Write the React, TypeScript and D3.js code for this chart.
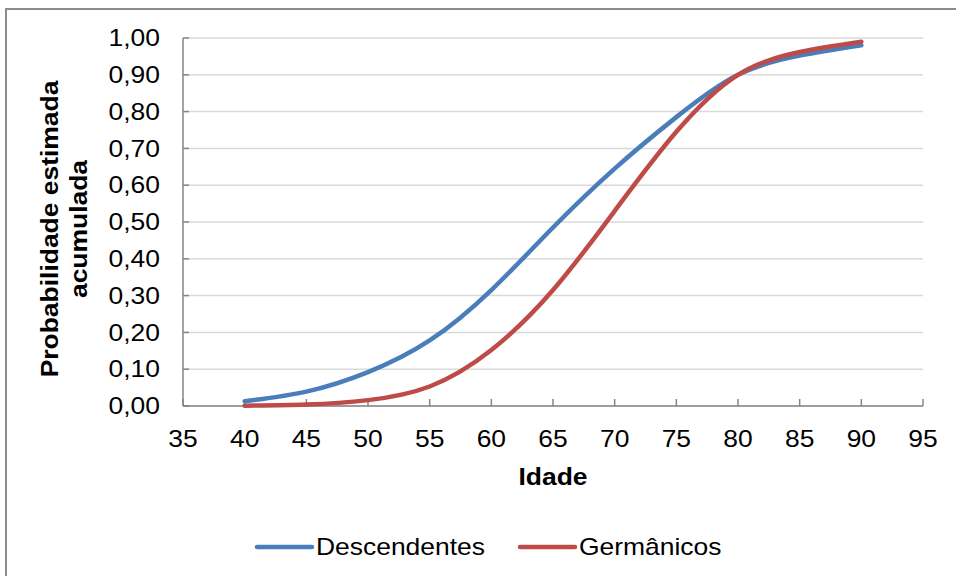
import React from "react";
import * as d3 from "d3";

const ages = [40, 45, 50, 55, 60, 65, 70, 75, 80, 85, 90];
const descendentes = [0.013, 0.039, 0.092, 0.178, 0.315, 0.485, 0.645, 0.785, 0.9, 0.952, 0.98];
const germanicos = [0.001, 0.004, 0.016, 0.053, 0.152, 0.315, 0.53, 0.745, 0.9, 0.962, 0.99];
const xTicks = [35, 40, 45, 50, 55, 60, 65, 70, 75, 80, 85, 90, 95];
const yTicks = [0, 0.1, 0.2, 0.3, 0.4, 0.5, 0.6, 0.7, 0.8, 0.9, 1.0];
const seriesNames = ["Descendentes", "Germânicos"];
const seriesColors = ["#4A7EBB", "#BE4B48"];

const W = 956;
const H = 576;
const L = 183, R = 923, T = 38, B = 406;
const SX = 1.15;

function Txt(props: {
  x: number;
  y: number;
  anchor?: "start" | "middle" | "end";
  bold?: boolean;
  dy?: string;
  children: React.ReactNode;
}) {
  return (
    <text
      transform={`translate(${props.x},${props.y}) scale(${SX},1)`}
      textAnchor={props.anchor || "start"}
      dy={props.dy}
      fontSize={23}
      fontWeight={props.bold ? "bold" : "normal"}
      fill="#000"
    >
      {props.children}
    </text>
  );
}

export default function App() {
  const x = d3.scaleLinear().domain([35, 95]).range([L, R]);
  const y = d3.scaleLinear().domain([0, 1]).range([B, T]);
  const line = d3
    .line<number>()
    .x((_, i) => x(ages[i]))
    .y((d) => y(d))
    .curve(d3.curveNatural);
  const series = [descendentes, germanicos];
  const fmt = (v: number) => v.toFixed(2).replace(".", ",");
  const font = "Liberation Sans, Arial, sans-serif";
  const legendX = [257, 520];
  return (
    <svg
      width={W}
      height={H}
      style={{ position: "absolute", left: 0, top: 0 }}
      fontFamily={font}
    >
      <rect x={0} y={0} width={W} height={H} fill="#fff" />
      <rect x={6} y={9} width={1000} height={1000} fill="none" stroke="#8c8c8c" strokeWidth={2} />
      {yTicks.map((t) => (
        <line key={"g" + t} x1={L} x2={R} y1={y(t)} y2={y(t)} stroke="#d9d9d9" strokeWidth={1.5} />
      ))}
      {yTicks.map((t) => (
        <line key={"yt" + t} x1={L} x2={L + 6} y1={y(t)} y2={y(t)} stroke="#868686" strokeWidth={1.5} />
      ))}
      <line x1={L} x2={L} y1={T} y2={B} stroke="#868686" strokeWidth={1.5} />
      <line x1={L} x2={R} y1={B} y2={B} stroke="#868686" strokeWidth={1.5} />
      {xTicks.map((t) => (
        <line key={"xt" + t} x1={x(t)} x2={x(t)} y1={B} y2={B - 7} stroke="#868686" strokeWidth={1.5} />
      ))}
      {yTicks.map((t) => (
        <Txt key={"yl" + t} x={160} y={y(t)} dy="0.36em" anchor="end">
          {fmt(t)}
        </Txt>
      ))}
      {xTicks.map((t) => (
        <Txt key={"xl" + t} x={x(t)} y={447} anchor="middle">
          {t}
        </Txt>
      ))}
      <Txt x={(L + R) / 2} y={485} anchor="middle" bold>
        Idade
      </Txt>
      <g transform="translate(58,229) rotate(-90)">
        <Txt x={0} y={0} anchor="middle" bold>
          Probabilidade estimada
        </Txt>
        <Txt x={0} y={29} anchor="middle" bold>
          acumulada
        </Txt>
      </g>
      {series.map((s, i) => (
        <path
          key={"s" + i}
          d={line(s) || ""}
          fill="none"
          stroke={seriesColors[i]}
          strokeWidth={4.5}
          strokeLinecap="round"
        />
      ))}
      {seriesNames.map((n, i) => (
        <g key={"lg" + i}>
          <line
            x1={legendX[i]}
            x2={legendX[i] + 55}
            y1={547}
            y2={547}
            stroke={seriesColors[i]}
            strokeWidth={4.5}
            strokeLinecap="round"
          />
          <Txt x={legendX[i] + 59} y={555}>
            {n}
          </Txt>
        </g>
      ))}
    </svg>
  );
}
